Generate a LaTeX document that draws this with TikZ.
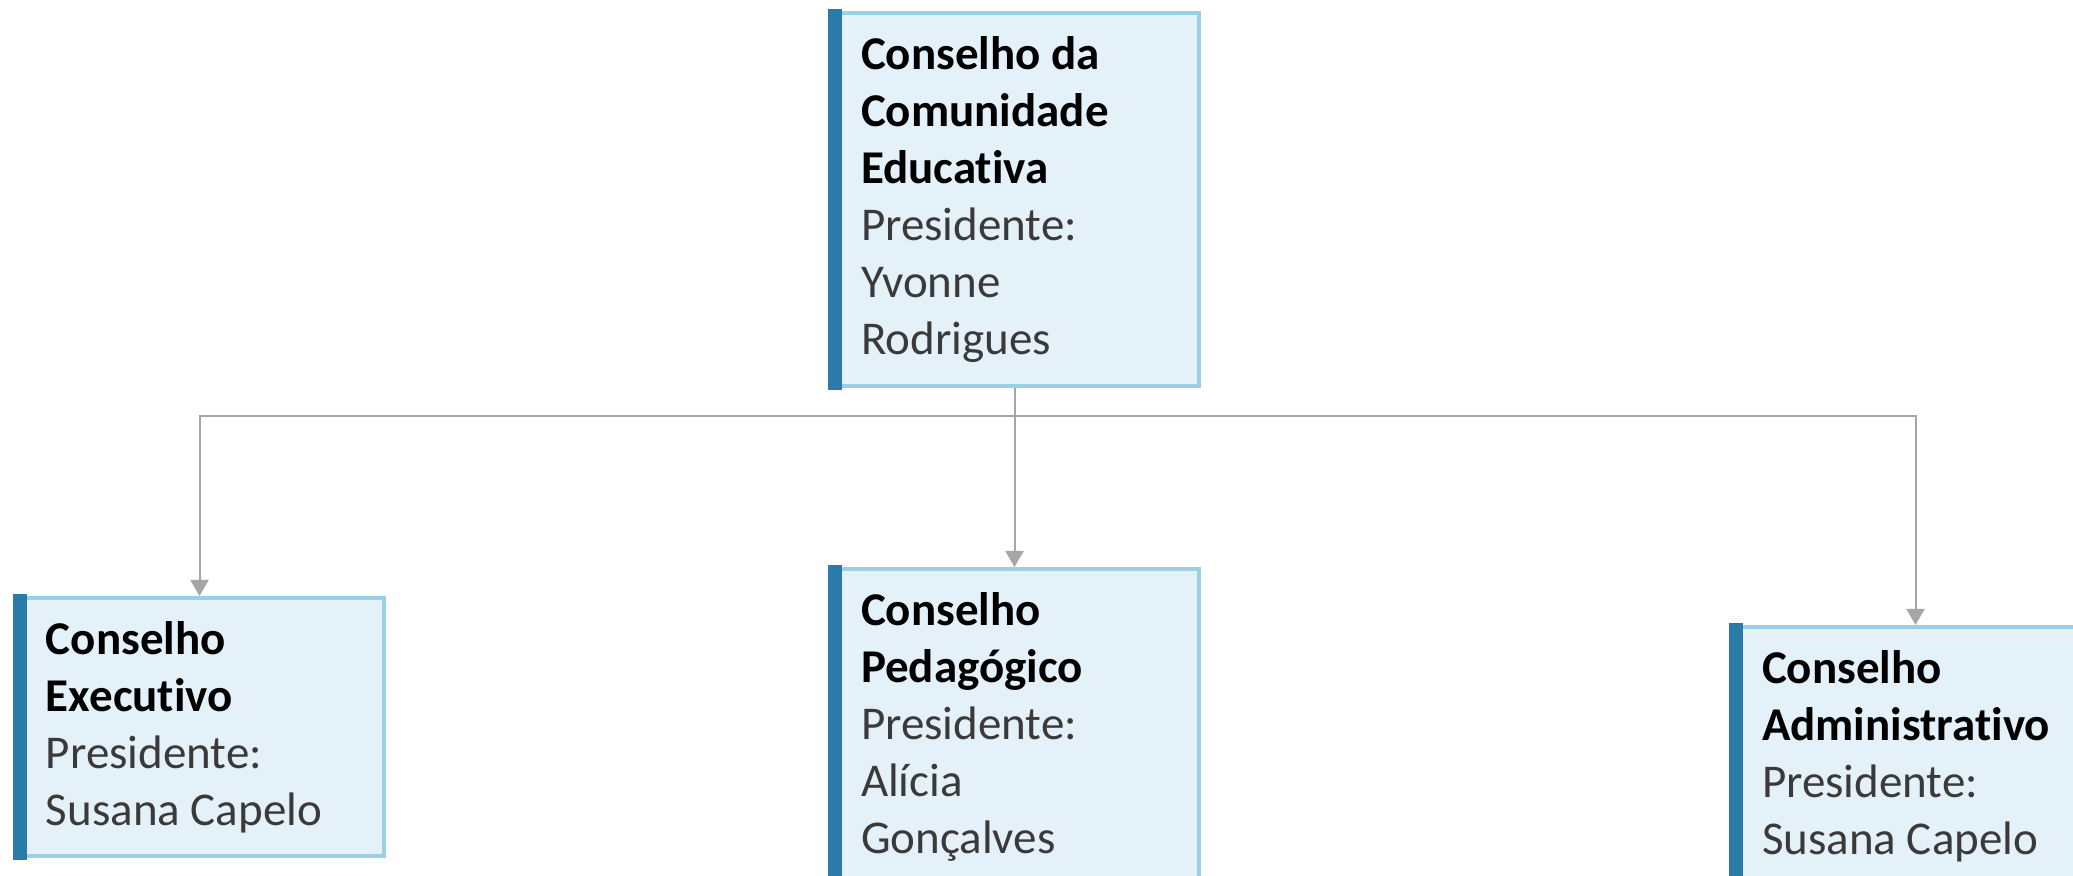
\documentclass[tikz,border=0pt]{standalone}
\usepackage{fontspec}
\setmainfont[Ligatures=NoCommon]{Carlito}
\usetikzlibrary{arrows.meta}
\definecolor{boxfill}{HTML}{E4F1F8}
\definecolor{boxline}{HTML}{9BCFE7}
\definecolor{boxbar}{HTML}{2A7BA9}
\definecolor{nametext}{HTML}{3A3A3A}
\definecolor{linkgray}{HTML}{A6A6A6}
\tikzset{
  orgbox/.style={rectangle,draw=boxline,line width=2pt,fill=boxfill,anchor=north west,
    minimum width=184.5pt,text width=153.5pt,inner xsep=15.5pt,inner ysep=0pt,align=flush left,
    text=nametext,font=\fontsize{23.5pt}{28.5pt}\selectfont},
  link/.style={draw=linkgray,line width=1pt,-{Triangle[width=9pt,length=8pt]}}
}
\newcommand{\boxtitle}[1]{{\color{black}\bfseries #1}}
\begin{document}
\begin{tikzpicture}[x=0.5pt,y=-0.5pt]
  \useasboundingbox (0,0) rectangle (2073,876);
  \clip (0,0) rectangle (2073,876);
  \fill[white] (0,0) rectangle (2073,876);

  \node at (828,11)  [orgbox,minimum height=186.5pt] (cce)
    {\boxtitle{Conselho da\\Comunidade\\Educativa}\\Presidente:\\Yvonne\\Rodrigues};
  \node at (13,596)  [orgbox,minimum height=129pt] (executivo)
    {\boxtitle{Conselho\\Executivo}\\Presidente:\\Susana Capelo};
  \node at (828,567) [orgbox,minimum height=158pt] (pedagogico)
    {\boxtitle{Conselho\\Pedagógico}\\Presidente:\\Alícia\\Gonçalves};
  \node at (1729,625) [orgbox,minimum height=129pt] (administrativo)
    {\boxtitle{Conselho\\Administrativo}\\Presidente:\\Susana Capelo};

  \foreach \n in {cce,executivo,pedagogico,administrativo}
    \fill[boxbar] ([yshift=1pt]\n.north west) rectangle ([xshift=7pt,yshift=-1pt]\n.south west);

  \coordinate (bus) at (0,416);
  \draw[link] (cce.south) -- (cce.south |- bus) -| (executivo.north);
  \draw[link] (cce.south) -- (pedagogico.north);
  \draw[link] (cce.south) -- (cce.south |- bus) -| (administrativo.north);
\end{tikzpicture}
\end{document}
